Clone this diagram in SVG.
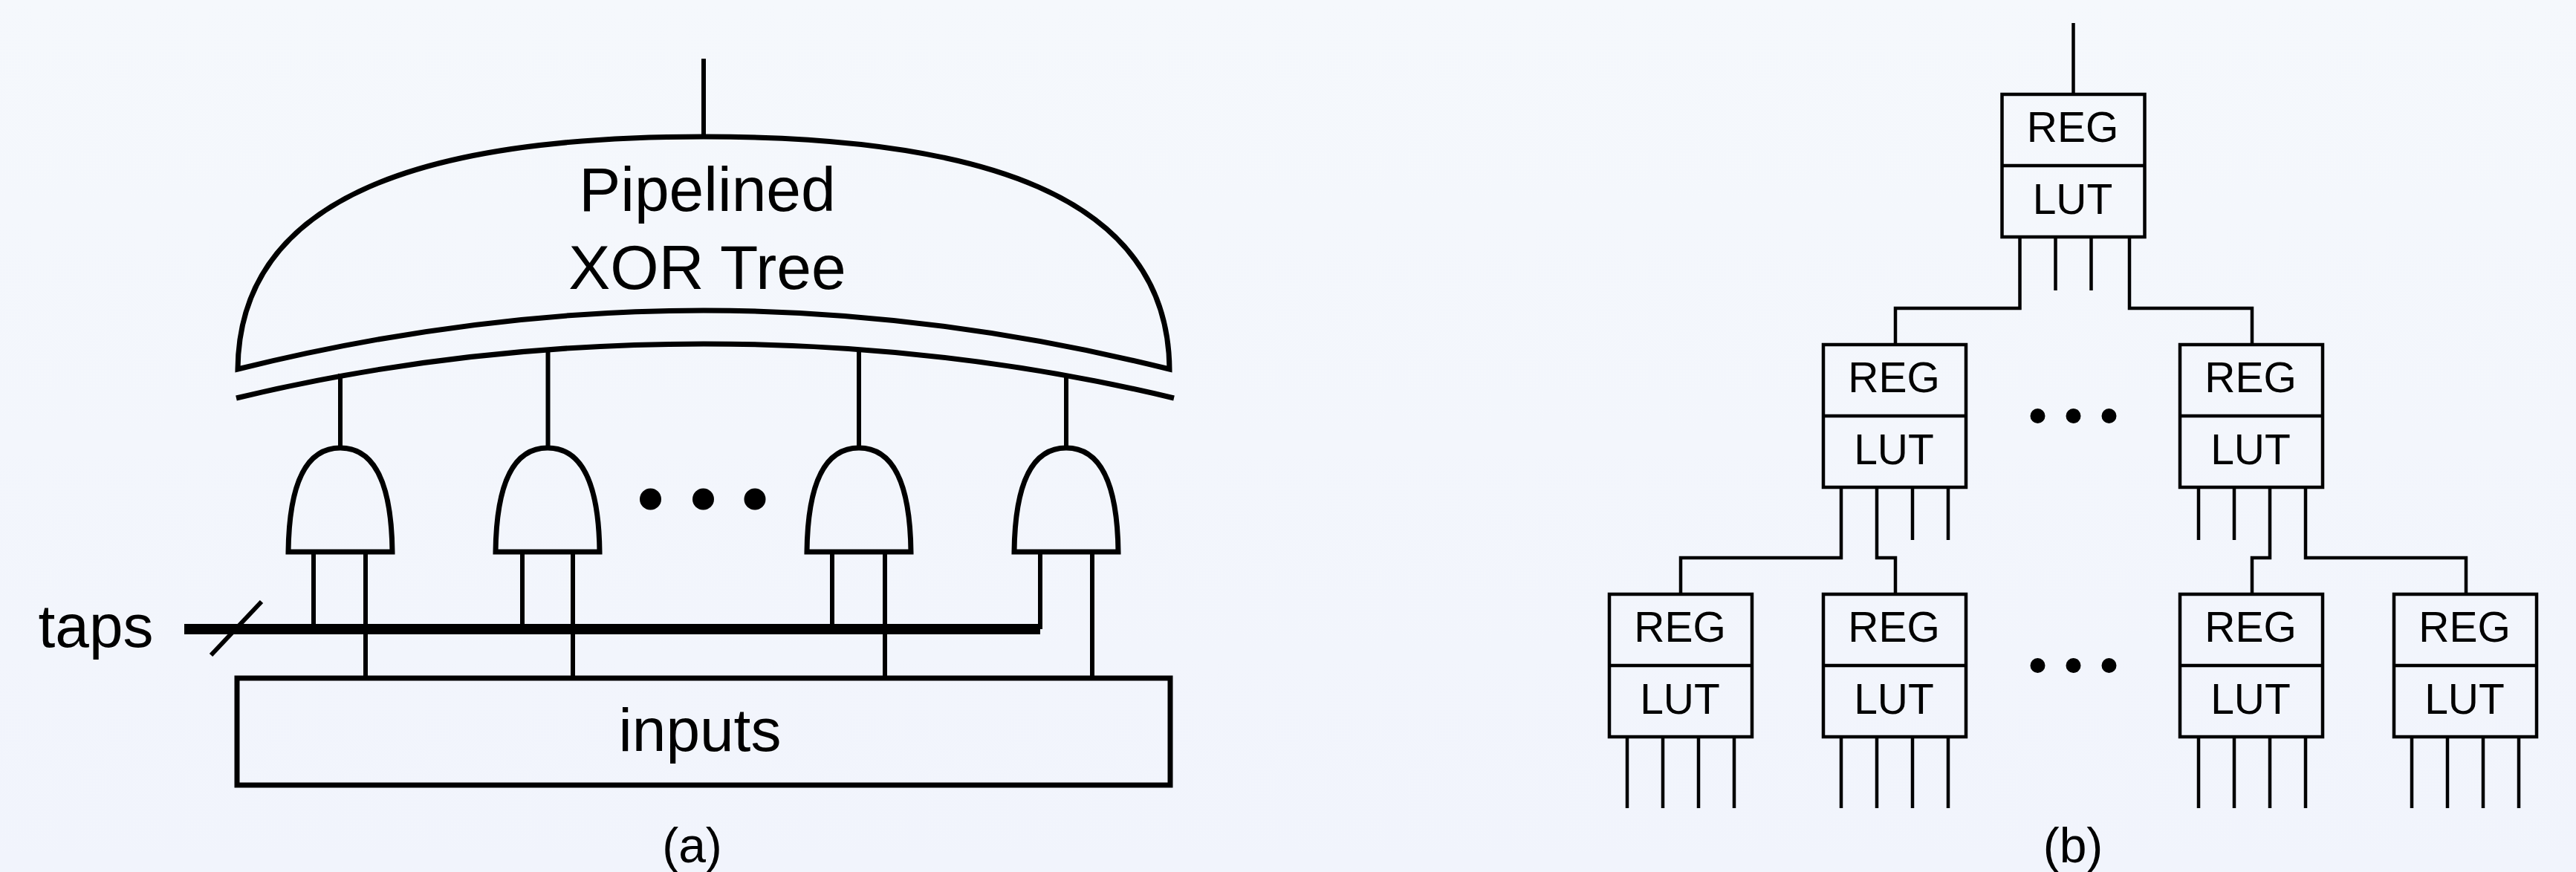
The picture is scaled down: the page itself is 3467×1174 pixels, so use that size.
<svg xmlns="http://www.w3.org/2000/svg" width="3467" height="1174" viewBox="0 0 3467 1174">
<defs>
<linearGradient id="bg" x1="0" y1="0" x2="0" y2="1"><stop offset="0" stop-color="#f5f8fc"/><stop offset="1" stop-color="#f1f4fc"/></linearGradient>
<path id="gate" d="M-70,140 C-69,55 -50,0 0,0 C50,0 69,55 70,140 Z"/>
<g id="cell"><rect class="b" x="0" y="0" width="192" height="192"/><line class="b" x1="0" y1="96" x2="192" y2="96"/><text class="cl" x="95" y="64">REG</text><text class="cl" x="95" y="161">LUT</text></g>
</defs>
<style>
.a{fill:none;stroke:#000;stroke-width:7}
.s{fill:none;stroke:#000;stroke-width:6}
.b{fill:none;stroke:#000;stroke-width:4.500}
.t{font-family:"Liberation Sans",Arial,sans-serif;font-size:82px;text-anchor:middle;fill:#000}
.tl{font-size:84px}
.c{font-family:"Liberation Sans",Arial,sans-serif;font-size:66px;text-anchor:middle;fill:#000}
.cl{font-family:"Liberation Sans",Arial,sans-serif;font-size:57px;text-anchor:middle;fill:#000}
</style>
<rect width="3467" height="1174" fill="url(#bg)"/>
<g id="connectors">
<path class="s" d="M947,79V184M458,503V603M737.500,472V603M1156,472V603M1435,503V603"/>
<path class="s" d="M422,743V847M492,743V913M703,743V847M771,743V913M1120,743V847M1191,743V913M1400,743V847M1470,743V913"/>
<line x1="248" y1="847" x2="1400" y2="847" stroke="#000" stroke-width="14"/>
<line class="s" x1="284" y1="882" x2="352" y2="810"/>
<path class="b" d="M2790.500,31V127M2766.500,319V391M2814.500,319V391M2718.500,319V415H2551V464M2866,319V415H3031V464"/>
<path class="b" d="M2478,656V751H2262V800M2526,656V751H2551V800M2574,656V727M2622,656V727M2959,656V727M3007,656V727M3055,656V751H3031V800M3103,656V751H3319V800"/>
<path class="b" d="M2190,992V1088M2238,992V1088M2286,992V1088M2334,992V1088M2478,992V1088M2526,992V1088M2574,992V1088M2622,992V1088M2959,992V1088M3007,992V1088M3055,992V1088M3103,992V1088M3246,992V1088M3294,992V1088M3342,992V1088M3390,992V1088"/>
</g>
<g id="xor-tree">
<path class="a" d="M320,497 C322,260 580,184 947,184 C1314,184 1572,260 1574,497 C1364,445 1154,418 947,418 C740,418 530,445 320,497 Z"/>
<path class="a" d="M318,536 C530,485 740,463 947,463 C1154,463 1368,485 1580,536"/>
<text class="t tl" x="952" y="284">Pipelined</text>
<text class="t tl" x="952" y="389">XOR Tree</text>
</g>
<g id="gate1"><use href="#gate" class="a" x="458" y="603"/></g>
<g id="gate2"><use href="#gate" class="a" x="737" y="603"/></g>
<g id="gate3"><use href="#gate" class="a" x="1156" y="603"/></g>
<g id="gate4"><use href="#gate" class="a" x="1435" y="603"/></g>
<g id="dots-a"><circle cx="875.500" cy="672" r="14.500"/><circle cx="946.500" cy="672" r="14.500"/><circle cx="1016" cy="672" r="14.500"/></g>
<g id="taps"><text class="t" x="129" y="871">taps</text></g>
<g id="inputs"><rect class="a" x="319" y="913" width="1256" height="144"/><text class="t" x="942" y="1011">inputs</text></g>
<g id="cap-a"><text class="c" x="931.500" y="1161">(a)</text></g>
<g id="n0"><use href="#cell" x="2694.500" y="127"/></g>
<g id="n1"><use href="#cell" x="2454" y="464"/></g>
<g id="n2"><use href="#cell" x="2934" y="464"/></g>
<g id="n3"><use href="#cell" x="2166" y="800"/></g>
<g id="n4"><use href="#cell" x="2454" y="800"/></g>
<g id="n5"><use href="#cell" x="2934" y="800"/></g>
<g id="n6"><use href="#cell" x="3222" y="800"/></g>
<g id="dots-b1"><circle cx="2742.500" cy="560" r="10"/><circle cx="2790.500" cy="560" r="10"/><circle cx="2838.500" cy="560" r="10"/></g>
<g id="dots-b2"><circle cx="2742.500" cy="896" r="10"/><circle cx="2790.500" cy="896" r="10"/><circle cx="2838.500" cy="896" r="10"/></g>
<g id="cap-b"><text class="c" x="2790" y="1161">(b)</text></g>
</svg>
